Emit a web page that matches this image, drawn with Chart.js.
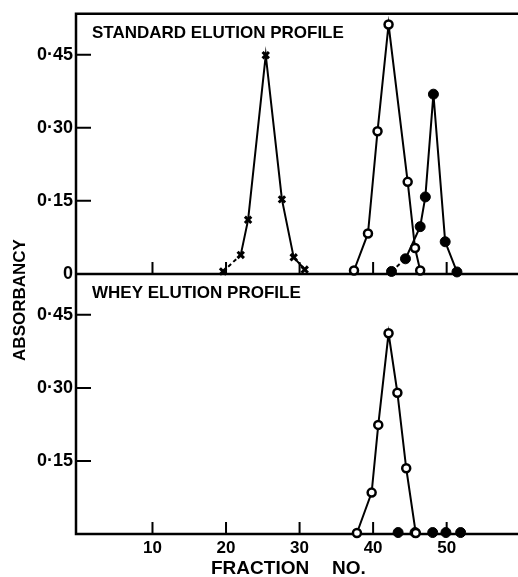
<!DOCTYPE html>
<html>
<head>
<meta charset="utf-8">
<title>Elution profiles</title>
<script src="https://cdn.jsdelivr.net/npm/chart.js@4.4.1/dist/chart.umd.min.js"></script>
<style>
  html, body { margin: 0; padding: 0; background: #fff; }
</style>
</head>
<body>
<canvas id="chart" width="518" height="577"></canvas>
<script>
// data (fraction no. / absorbancy)
const stdCrossFraction = [19.6, 22.0, 23.0, 25.4, 27.6, 29.2, 30.7];
const stdCrossAbs = [0.005, 0.039, 0.111, 0.449, 0.153, 0.034, 0.009];

const stdOpenFraction = [37.4, 39.3, 40.6, 42.1, 44.7, 45.7, 46.4];
const stdOpenAbs = [0.007, 0.083, 0.293, 0.512, 0.189, 0.053, 0.007];

const stdFilledFraction = [42.5, 44.4, 46.4, 47.1, 48.2, 49.8, 51.4];
const stdFilledAbs = [0.005, 0.031, 0.097, 0.158, 0.369, 0.066, 0.004];

const wheyOpenFraction = [37.8, 39.8, 40.7, 42.1, 43.3, 44.5, 45.8];
const wheyOpenAbs = [0.002, 0.085, 0.224, 0.412, 0.290, 0.135, 0.002];

const wheyFilledFraction = [43.4, 45.7, 48.1, 49.9, 51.9];
const wheyFilledAbs = [0.003, 0.003, 0.003, 0.003, 0.003];

const xTicks = [10, 20, 30, 40, 50];
const stdTicks = [0, 0.15, 0.30, 0.45];
const wheyTicks = [0.15, 0.30, 0.45];

const FONT = '"Liberation Sans", Arial, sans-serif';

function pts(xs, ys) {
  return xs.map((x, i) => ({ x: x, y: ys[i] }));
}

function absLabel(v) {
  if (v === 0) return '0';
  return v.toFixed(2).replace('.', '\u00b7');
}

// first segment of a series drawn dashed
const dashFirst = {
  borderDash: ctx => ctx.p0DataIndex === 0 ? [4, 3] : undefined
};

// frame, inward ticks and free text
const framePlugin = {
  id: 'frame',
  beforeDatasetsDraw(chart) {
    const ctx = chart.ctx;
    const a = chart.chartArea;
    const x = chart.scales.x;
    const yStd = chart.scales.yStd;
    const yWhey = chart.scales.yWhey;
    const mid = yStd.getPixelForValue(0);
    const base = yWhey.getPixelForValue(0);

    ctx.save();
    ctx.strokeStyle = '#000';
    ctx.lineWidth = 2.5;
    ctx.beginPath();
    ctx.moveTo(a.right, a.top);
    ctx.lineTo(a.left, a.top);
    ctx.lineTo(a.left, base);
    ctx.lineTo(a.right, base);
    ctx.moveTo(a.left, mid);
    ctx.lineTo(a.right, mid);
    ctx.stroke();

    ctx.lineWidth = 2;
    ctx.beginPath();
    xTicks.forEach(v => {
      const px = x.getPixelForValue(v);
      ctx.moveTo(px, mid);
      ctx.lineTo(px, mid - 12);
      ctx.moveTo(px, base);
      ctx.lineTo(px, base - 12);
    });
    stdTicks.forEach(v => {
      if (v === 0) return;
      const py = yStd.getPixelForValue(v);
      ctx.moveTo(a.left, py);
      ctx.lineTo(a.left + 15, py);
    });
    wheyTicks.forEach(v => {
      const py = yWhey.getPixelForValue(v);
      ctx.moveTo(a.left, py);
      ctx.lineTo(a.left + 15, py);
    });
    ctx.stroke();
    ctx.restore();
  },
  afterDraw(chart) {
    const ctx = chart.ctx;
    ctx.save();
    ctx.fillStyle = '#000';
    ctx.font = 'bold 17px ' + FONT;
    ctx.textAlign = 'left';
    ctx.textBaseline = 'alphabetic';
    ctx.fillText('STANDARD ELUTION PROFILE', 92, 38);
    ctx.fillText('WHEY ELUTION PROFILE', 92, 298);

    ctx.font = 'bold 19px ' + FONT;
    ctx.textBaseline = 'middle';
    ctx.fillText('FRACTION', 211, 569);
    ctx.fillText('NO.', 332, 569);

    ctx.font = 'bold 17px ' + FONT;
    ctx.textAlign = 'center';
    ctx.translate(20, 300);
    ctx.rotate(-Math.PI / 2);
    ctx.fillText('ABSORBANCY', 0, 0);
    ctx.restore();
  }
};

Chart.defaults.font.family = FONT;
Chart.defaults.font.weight = 'bold';
Chart.defaults.font.size = 17;
Chart.defaults.color = '#000';

new Chart(document.getElementById('chart'), {
  type: 'scatter',
  data: {
    datasets: [{
      label: 'Standard x',
      data: pts(stdCrossFraction, stdCrossAbs),
      yAxisID: 'yStd',
      showLine: true,
      borderColor: '#000',
      borderWidth: 2,
      pointStyle: 'crossRot',
      pointRadius: 4.5,
      pointBorderWidth: 3,
      segment: dashFirst
    }, {
      label: 'Standard open',
      data: pts(stdOpenFraction, stdOpenAbs),
      yAxisID: 'yStd',
      showLine: true,
      borderColor: '#000',
      borderWidth: 2,
      pointRadius: 4,
      pointBorderWidth: 2.5,
      pointBackgroundColor: '#fff'
    }, {
      label: 'Standard filled',
      data: pts(stdFilledFraction, stdFilledAbs),
      yAxisID: 'yStd',
      showLine: true,
      borderColor: '#000',
      borderWidth: 2,
      pointRadius: 5,
      pointBorderWidth: 1,
      pointBackgroundColor: '#000',
      segment: dashFirst
    }, {
      label: 'Whey open',
      data: pts(wheyOpenFraction, wheyOpenAbs),
      yAxisID: 'yWhey',
      showLine: true,
      borderColor: '#000',
      borderWidth: 2,
      pointRadius: 4,
      pointBorderWidth: 2.5,
      pointBackgroundColor: '#fff'
    }, {
      label: 'Whey filled',
      data: pts(wheyFilledFraction, wheyFilledAbs),
      yAxisID: 'yWhey',
      showLine: false,
      borderColor: '#000',
      pointRadius: 5,
      pointBorderWidth: 1,
      pointBackgroundColor: '#000'
    }]
  },
  options: {
    responsive: false,
    animation: false,
    clip: false,
    layout: {
      autoPadding: false,
      padding: { top: 11, right: 0, left: 0, bottom: 0 }
    },
    plugins: {
      legend: { display: false },
      tooltip: { enabled: false }
    },
    scales: {
      x: {
        type: 'linear',
        min: -0.4,
        max: 59.7,
        grid: { display: false, drawTicks: false },
        border: { display: false },
        ticks: { padding: 4 },
        afterBuildTicks: s => { s.ticks = xTicks.map(v => ({ value: v })); },
        afterFit: s => {
          s.height = 43;
          s.paddingLeft = 0;
          s.paddingRight = 0;
        }
      },
      yWhey: {
        type: 'linear',
        position: 'left',
        stack: 'panels',
        stackWeight: 1,
        min: 0,
        max: 0.534,
        grid: { display: false, drawTicks: false },
        border: { display: false },
        ticks: { padding: 3, font: { size: 18 }, callback: absLabel },
        afterBuildTicks: s => { s.ticks = wheyTicks.map(v => ({ value: v })); },
        afterFit: s => { s.width = 76; }
      },
      yStd: {
        type: 'linear',
        position: 'left',
        stack: 'panels',
        stackWeight: 1,
        min: 0,
        max: 0.534,
        grid: { display: false, drawTicks: false },
        border: { display: false },
        ticks: { padding: 3, font: { size: 18 }, callback: absLabel },
        afterBuildTicks: s => { s.ticks = stdTicks.map(v => ({ value: v })); },
        afterFit: s => { s.width = 76; }
      }
    }
  },
  plugins: [framePlugin]
});
</script>
</body>
</html>
